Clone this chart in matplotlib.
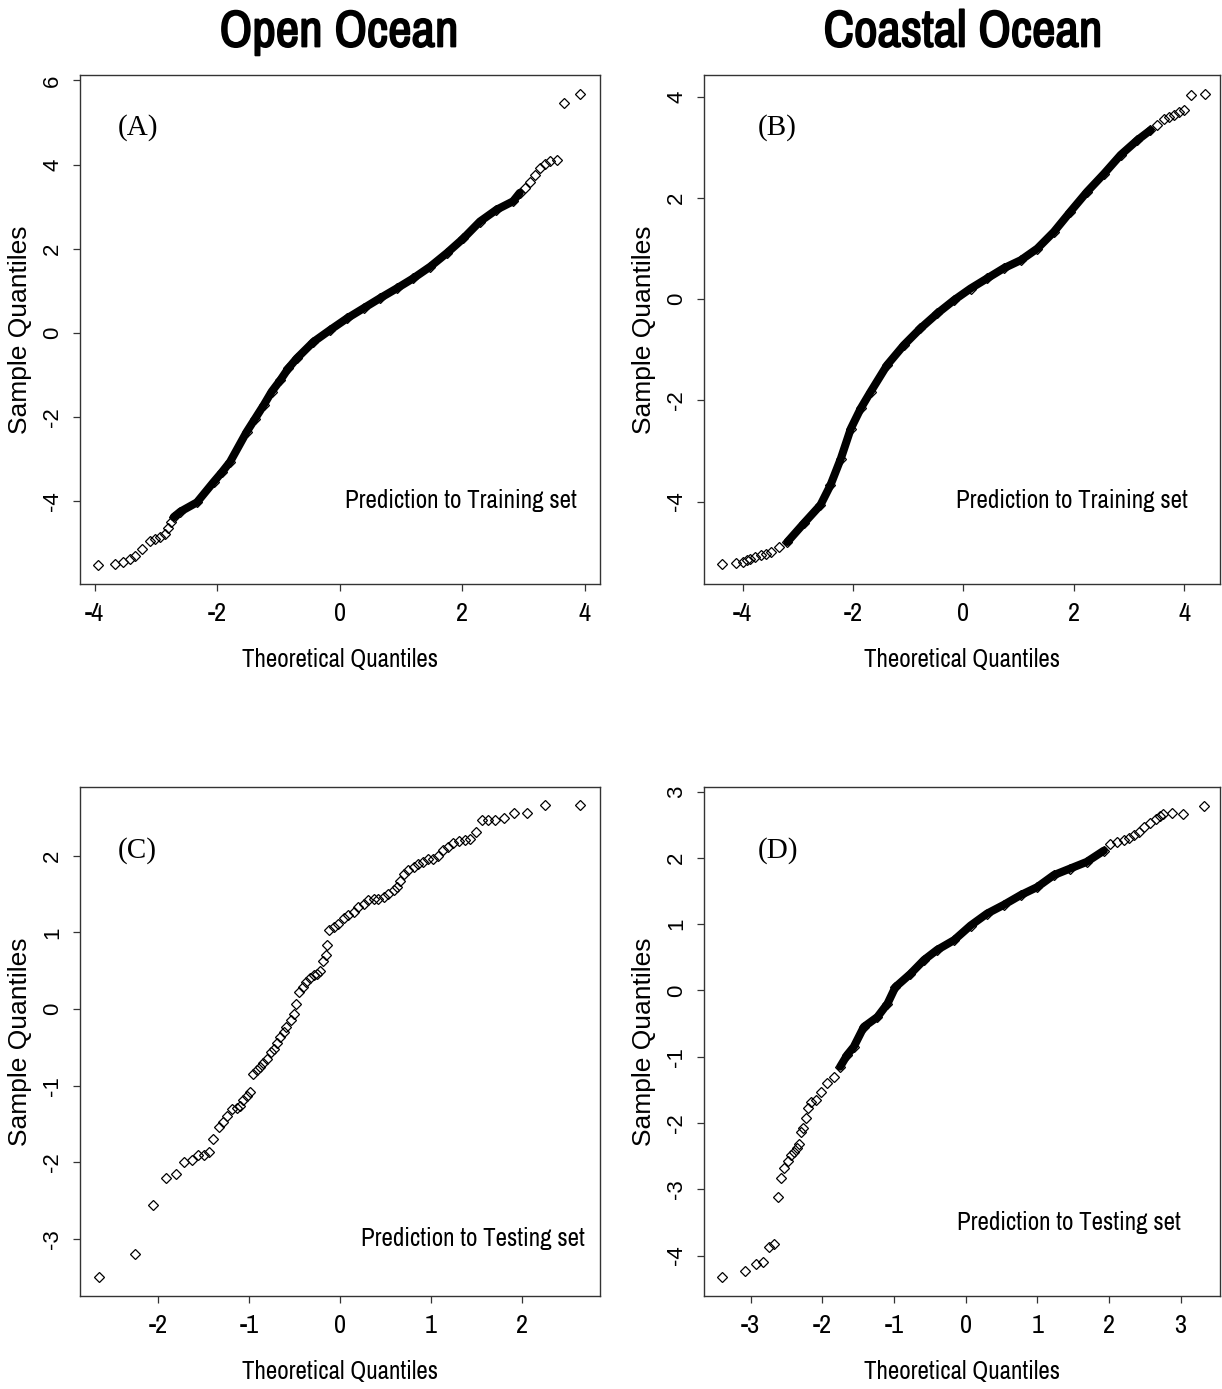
import matplotlib
matplotlib.use("Agg")
import matplotlib.pyplot as plt
from matplotlib import font_manager as fm
from matplotlib import patheffects as pe
import numpy as np

# ---------------- data ----------------
# Panel A: Open Ocean, prediction to training set
a_x = [-3.95, -3.67, -3.54, -3.43, -3.34, -3.23, -3.09, -3.01, -2.93, -2.85, -2.80,
       -2.76, -2.71, -2.60,
       -2.33, -2.06, -1.92, -1.79, -1.52, -1.38, -1.24, -1.11, -0.97, -0.84, -0.70,
       -0.43, -0.16, 0.12, 0.39, 0.66, 0.93, 1.20, 1.48, 1.75, 2.02, 2.29, 2.56,
       2.83, 2.94, 3.03, 3.10, 3.19, 3.27, 3.36, 3.43, 3.54, 3.66, 3.93]
a_y = [-5.52, -5.48, -5.44, -5.37, -5.29, -5.13, -4.93, -4.89, -4.85, -4.77, -4.64,
       -4.48, -4.37, -4.24,
       -4.02, -3.54, -3.30, -3.06, -2.35, -2.03, -1.71, -1.39, -1.12, -0.84, -0.60,
       -0.21, 0.07, 0.35, 0.59, 0.83, 1.06, 1.30, 1.58, 1.90, 2.25, 2.65, 2.93,
       3.13, 3.33, 3.44, 3.60, 3.75, 3.92, 4.01, 4.08, 4.12, 5.47, 5.69]

# Panel B: Coastal Ocean, prediction to training set
b_x = [-4.37, -4.12, -3.99, -3.92, -3.86, -3.77, -3.67, -3.58, -3.49, -3.34, -3.19,
       -2.89, -2.59, -2.41, -2.22,
       -2.04, -1.86, -1.68, -1.38, -1.08, -0.78, -0.47, -0.17, 0.13, 0.43, 0.73,
       1.04, 1.34, 1.64, 1.94, 2.24, 2.55, 2.85, 3.15, 3.39, 3.51, 3.63, 3.72,
       3.81, 3.90, 3.99, 4.13, 4.37]
b_y = [-5.24, -5.22, -5.19, -5.16, -5.13, -5.09, -5.06, -5.03, -4.99, -4.90, -4.80,
       -4.43, -4.07, -3.68, -3.15,
       -2.56, -2.16, -1.83, -1.30, -0.91, -0.58, -0.28, -0.02, 0.21, 0.41, 0.61,
       0.77, 1.00, 1.33, 1.73, 2.12, 2.48, 2.85, 3.14, 3.34, 3.44, 3.57, 3.60,
       3.64, 3.70, 3.74, 4.03, 4.05]

# Panel C: Open Ocean, prediction to testing set
c_x = [-2.66, -2.26, -2.06, -1.92, -1.81, -1.72, -1.63, -1.57, -1.50, -1.44, -1.40,
       -1.33, -1.29, -1.24, -1.19, -1.14, -1.10, -1.07, -1.03, -0.99, -0.96, -0.92,
       -0.88, -0.85, -0.80, -0.76, -0.73, -0.69, -0.66, -0.62, -0.59, -0.54, -0.51,
       -0.48, -0.45, -0.41, -0.37, -0.33, -0.29, -0.25, -0.22, -0.19, -0.15, -0.14,
       -0.12, -0.07, -0.02, 0.04, 0.09, 0.15, 0.20, 0.26, 0.31, 0.37, 0.42, 0.48,
       0.53, 0.59, 0.63, 0.66, 0.70, 0.75, 0.81, 0.86, 0.92, 0.97, 1.03, 1.08,
       1.14, 1.19, 1.25, 1.31, 1.38, 1.43, 1.50, 1.56, 1.63, 1.71, 1.81, 1.92,
       2.06, 2.26, 2.65]
c_y = [-3.49, -3.19, -2.56, -2.21, -2.15, -1.99, -1.97, -1.90, -1.91, -1.86, -1.70,
       -1.54, -1.47, -1.39, -1.30, -1.29, -1.26, -1.19, -1.13, -1.08, -0.85, -0.80,
       -0.76, -0.71, -0.65, -0.56, -0.52, -0.45, -0.37, -0.30, -0.23, -0.15, -0.06,
       0.06, 0.22, 0.29, 0.35, 0.40, 0.44, 0.46, 0.50, 0.63, 0.70, 0.83,
       1.03, 1.07, 1.11, 1.18, 1.22, 1.26, 1.33, 1.37, 1.42, 1.44, 1.44, 1.46,
       1.50, 1.55, 1.59, 1.67, 1.76, 1.81, 1.85, 1.89, 1.92, 1.95, 1.96, 2.00,
       2.07, 2.11, 2.16, 2.19, 2.20, 2.21, 2.31, 2.46, 2.47, 2.47, 2.49, 2.55,
       2.55, 2.66, 2.66]

# Panel D: Coastal Ocean, prediction to testing set
d_x = [-3.40, -3.08, -2.92, -2.82, -2.74, -2.67, -2.62, -2.57, -2.53, -2.48, -2.44,
       -2.40, -2.35, -2.32, -2.30, -2.27, -2.23, -2.20, -2.16, -2.09, -2.02, -1.93,
       -1.84, -1.75, -1.65, -1.56, -1.42, -1.23, -1.09, -0.98, -0.77, -0.58, -0.40,
       -0.16, 0.07, 0.30, 0.53, 0.77, 1.00, 1.23, 1.46, 1.69, 1.93, 2.02, 2.11,
       2.21, 2.28, 2.35, 2.42, 2.49, 2.58, 2.65, 2.71, 2.76, 2.88, 3.03, 3.33]
d_y = [-4.33, -4.23, -4.13, -4.10, -3.87, -3.83, -3.12, -2.83, -2.68, -2.57, -2.48,
       -2.43, -2.38, -2.32, -2.13, -2.08, -1.92, -1.77, -1.68, -1.65, -1.53, -1.40,
       -1.30, -1.15, -0.97, -0.85, -0.55, -0.40, -0.20, 0.05, 0.25, 0.46, 0.61,
       0.76, 0.98, 1.16, 1.29, 1.44, 1.56, 1.74, 1.84, 1.94, 2.11, 2.21, 2.24,
       2.27, 2.30, 2.34, 2.39, 2.47, 2.53, 2.58, 2.63, 2.67, 2.68, 2.67, 2.79]

panel_letters = ["(A)", "(B)", "(C)", "(D)"]
panel_notes = ["Prediction to Training set", "Prediction to Training set",
               "Prediction to Testing set", "Prediction to Testing set"]
col_titles = ["Open Ocean", "Coastal Ocean"]
a_ticks = [-4, -2, 0, 2, 4]
a_yticks = [-4, -2, 0, 2, 4, 6]
b_ticks = [-4, -2, 0, 2, 4]
b_yticks = [-4, -2, 0, 2, 4]
c_ticks = [-2, -1, 0, 1, 2]
c_yticks = [-3, -2, -1, 0, 1, 2]
d_ticks = [-3, -2, -1, 0, 1, 2, 3]
d_yticks = [-4, -3, -2, -1, 0, 1, 2, 3]

# ---------------- fonts ----------------
names = {f.name for f in fm.fontManager.ttflist}


def pick(cands, default):
    for c in cands:
        if c in names:
            return c
    return default


NARROW = pick(["Liberation Sans Narrow", "Arial Narrow", "Archivo Narrow",
               "PT Sans Narrow", "Roboto Condensed", "IBM Plex Sans Condensed",
               "Fira Sans Condensed", "Encode Sans Condensed", "Asap Condensed",
               "Sofia Sans Condensed"], "Liberation Sans")
SANS = pick(["Liberation Sans", "Arimo"], "DejaVu Sans")
SERIF = pick(["Liberation Serif", "Tinos"], "DejaVu Serif")

W, H = 1222, 1389
fig = plt.figure(figsize=(W / 100, H / 100), dpi=100)


def rect(l, t, r, b):
    return [l / W, 1 - b / H, (r - l) / W, (b - t) / H]


panels = [
    dict(box=(80, 75, 600, 584), x=a_x, y=a_y, xt=a_ticks, yt=a_yticks,
         xlim=(-4.24, 4.25), ylim=(-5.96, 6.13), body=(-2.75, 3.0),
         letter_xy=(118, 128), note_xy=(577, 501)),
    dict(box=(704, 75, 1220, 584), x=b_x, y=b_y, xt=b_ticks, yt=b_yticks,
         xlim=(-4.70, 4.65), ylim=(-5.63, 4.43), body=(-3.3, 3.4),
         letter_xy=(758, 128), note_xy=(1188, 501)),
    dict(box=(80, 787, 600, 1296), x=c_x, y=c_y, xt=c_ticks, yt=c_yticks,
         xlim=(-2.865, 2.865), ylim=(-3.742, 2.894), body=None,
         letter_xy=(118, 851), note_xy=(585, 1239)),
    dict(box=(704, 787, 1220, 1296), x=d_x, y=d_y, xt=d_ticks, yt=d_yticks,
         xlim=(-3.65, 3.55), ylim=(-4.61, 3.07), body=(-1.8, 1.95),
         letter_xy=(758, 851), note_xy=(1181, 1222)),
]

for i, p in enumerate(panels):
    l, t, r, b = p["box"]
    ax = fig.add_axes(rect(l, t, r, b))
    x = np.array(p["x"])
    y = np.array(p["y"])
    if p["body"] is not None:
        m = (x >= p["body"][0]) & (x <= p["body"][1])
        ax.plot(x[m], y[m], "-", color="black", lw=5.8, solid_capstyle="round",
                solid_joinstyle="round")
    ax.plot(x, y, "D", ms=4.6, mfc="none", mec="black", mew=0.9, ls="none")
    ax.set_xlim(*p["xlim"])
    ax.set_ylim(*p["ylim"])
    ax.set_xticks(p["xt"])
    ax.set_yticks(p["yt"])
    ax.set_xticklabels([str(v) for v in p["xt"]], fontfamily=NARROW, fontsize=19)
    ax.set_yticklabels([str(v) for v in p["yt"]], fontfamily=SANS, fontsize=16,
                       rotation=90, va="center")
    ax.tick_params(length=5, width=0.9, color="#333333")
    ax.tick_params(axis="x", pad=8)
    ax.tick_params(axis="y", pad=7)
    for s in ax.spines.values():
        s.set_linewidth(1.0)
        s.set_color("#333333")
    aw, ah = r - l, b - t
    ax.set_xlabel("Theoretical Quantiles", fontfamily=NARROW, fontsize=18, va="center")
    ax.xaxis.set_label_coords(0.5, -(76 / ah))
    ax.set_ylabel("Sample Quantiles", fontfamily=SANS, fontsize=19, va="center")
    ax.yaxis.set_label_coords(-(60 / aw), 0.5)
    lx, ly = p["letter_xy"]
    fig.text(lx / W, 1 - ly / H, panel_letters[i], fontfamily=SERIF, fontsize=21,
             ha="left", va="center")
    nx, ny = p["note_xy"]
    fig.text(nx / W, 1 - ny / H, panel_notes[i], fontfamily=NARROW, fontsize=18,
             ha="right", va="center")

bold = [pe.withStroke(linewidth=1.3, foreground="black")]
fig.text(339 / W, 1 - 32 / H, col_titles[0], fontfamily=NARROW, fontweight="bold",
         fontsize=37, ha="center", va="center", path_effects=bold)
fig.text(963 / W, 1 - 32 / H, col_titles[1], fontfamily=NARROW, fontweight="bold",
         fontsize=37, ha="center", va="center", path_effects=bold)

fig.savefig("out.png", dpi=100, facecolor="white")
